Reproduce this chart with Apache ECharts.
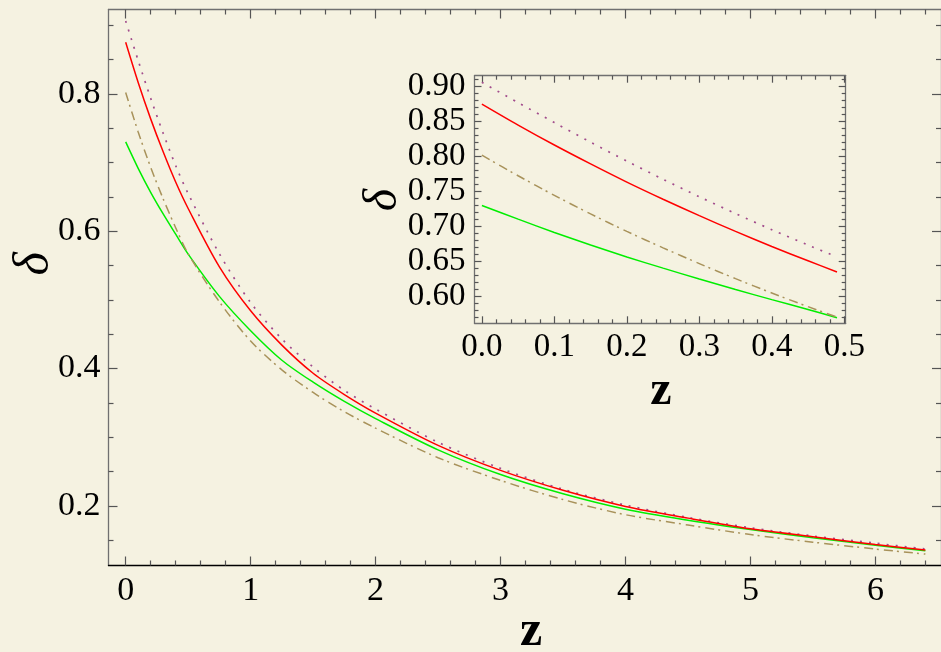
<!DOCTYPE html>
<html><head><meta charset="utf-8">
<script src="https://cdn.jsdelivr.net/npm/echarts@6/dist/echarts.min.js"></script>
<style>html,body{margin:0;padding:0;background:#f5f2e1}#c{width:941px;height:652px}</style>
</head><body><div id="c"></div>
<script>
// ---- data ----
const mainZ = [0, 0.1, 0.2, 0.3, 0.4, 0.5, 0.75, 1, 1.25, 1.5, 1.75, 2, 2.5, 3, 3.5, 4, 4.5, 5, 5.5, 6, 6.4];
const mainRed = [0.875, 0.8165, 0.7635, 0.7155, 0.6715, 0.633, 0.548, 0.484, 0.434, 0.393, 0.362, 0.335, 0.288, 0.2515, 0.2225, 0.199, 0.182, 0.1665, 0.155, 0.1435, 0.1355];
const mainPurple = [0.906, 0.8485, 0.7935, 0.7425, 0.6955, 0.6545, 0.567, 0.496, 0.443, 0.402, 0.368, 0.341, 0.2925, 0.2545, 0.224, 0.201, 0.183, 0.168, 0.156, 0.1455, 0.137];
const mainGreen = [0.730, 0.6915, 0.6565, 0.625, 0.5955, 0.5665, 0.505, 0.455, 0.412, 0.380, 0.352, 0.327, 0.2815, 0.2455, 0.2175, 0.195, 0.179, 0.1655, 0.1535, 0.1425, 0.1345];
const mainOlive = [0.802, 0.7445, 0.693, 0.647, 0.605, 0.567, 0.497, 0.440, 0.398, 0.365, 0.337, 0.313, 0.270, 0.237, 0.209, 0.187, 0.172, 0.158, 0.147, 0.137, 0.1296];

const insetZ = [0, 0.05, 0.1, 0.15, 0.2, 0.25, 0.3, 0.35, 0.4, 0.45, 0.49];
const insetRed = [0.875, 0.845, 0.8165, 0.7895, 0.7635, 0.739, 0.7155, 0.693, 0.6715, 0.651, 0.635];
const insetPurple = [0.906, 0.877, 0.8485, 0.8205, 0.7935, 0.7675, 0.7425, 0.7185, 0.6955, 0.6735, 0.6565];
const insetOlive = [0.802, 0.7725, 0.7445, 0.718, 0.693, 0.6695, 0.647, 0.6255, 0.605, 0.5855, 0.5705];
const insetGreen = [0.730, 0.7105, 0.6915, 0.6735, 0.6565, 0.6405, 0.625, 0.610, 0.5955, 0.5815, 0.5695];

const mainXMajor = [0, 1, 2, 3, 4, 5, 6];
const mainXMinor = [0.2,0.4,0.6,0.8,1.2,1.4,1.6,1.8,2.2,2.4,2.6,2.8,3.2,3.4,3.6,3.8,4.2,4.4,4.6,4.8,5.2,5.4,5.6,5.8,6.2,6.4];
const mainYMajor = [0.2, 0.4, 0.6, 0.8];
const mainYMinor = [0.15,0.25,0.3,0.35,0.45,0.5,0.55,0.65,0.7,0.75,0.85,0.9];
const insetXMajor = [0, 0.1, 0.2, 0.3, 0.4, 0.5];
const insetXMinor = [0.02,0.04,0.06,0.08,0.12,0.14,0.16,0.18,0.22,0.24,0.26,0.28,0.32,0.34,0.36,0.38,0.42,0.44,0.46,0.48];
const insetYMajor = [0.60, 0.65, 0.70, 0.75, 0.80, 0.85, 0.90];
const insetYMinor = [0.57,0.58,0.59,0.61,0.62,0.63,0.64,0.66,0.67,0.68,0.69,0.71,0.72,0.73,0.74,0.76,0.77,0.78,0.79,0.81,0.82,0.83,0.84,0.86,0.87,0.88,0.89,0.91];

// ---- styling ----
const BG = '#f5f2e1';
const FRAME = '#707070';
const TICK = '#555555';
const SERIF = '"Liberation Serif", "Times New Roman", serif';

function mkAxis(grid, min, max, pos, ticks, len, o) {
  o = o || {};
  const ax = {
    type: 'value', gridIndex: grid, min: min, max: max, position: pos,
    axisLine: { show: !!o.line, onZero: false, lineStyle: { color: o.lineColor || FRAME, width: o.lineWidth || 1.3 } },
    axisTick: { show: true, inside: true, length: len, customValues: ticks, lineStyle: { color: TICK, width: 1.2 } },
    axisLabel: { show: false },
    splitLine: { show: false }
  };
  if (o.labels) {
    ax.axisLabel = { show: true, customValues: o.labels, formatter: o.fmt, fontSize: o.fs, fontFamily: SERIF, color: '#000', margin: o.margin };
  }
  return ax;
}

const MX = [-0.1375, 6.525], MY = [0.113, 0.9228];
const IX = [-0.0102, 0.502], IY = [0.5617, 0.9155];

const xAxes = [
  mkAxis(0, MX[0], MX[1], 'bottom', mainXMajor, 9, { line: true, lineColor: '#000', labels: mainXMajor, fmt: v => String(Math.round(v)), fs: 34, margin: 9 }),
  mkAxis(0, MX[0], MX[1], 'bottom', mainXMinor, 5),
  mkAxis(0, MX[0], MX[1], 'top', mainXMajor, 9, { line: true }),
  mkAxis(0, MX[0], MX[1], 'top', mainXMinor, 5),
  mkAxis(1, IX[0], IX[1], 'bottom', insetXMajor, 7, { line: true, labels: insetXMajor, fmt: v => v.toFixed(1), fs: 33, margin: 8 }),
  mkAxis(1, IX[0], IX[1], 'bottom', insetXMinor, 4),
  mkAxis(1, IX[0], IX[1], 'top', insetXMajor, 7, { line: true }),
  mkAxis(1, IX[0], IX[1], 'top', insetXMinor, 4)
];
const yAxes = [
  mkAxis(0, MY[0], MY[1], 'left', mainYMajor, 9, { line: true, labels: mainYMajor, fmt: v => v.toFixed(1), fs: 34, margin: 8 }),
  mkAxis(0, MY[0], MY[1], 'left', mainYMinor, 5),
  mkAxis(0, MY[0], MY[1], 'right', mainYMajor, 9, { line: true }),
  mkAxis(0, MY[0], MY[1], 'right', mainYMinor, 5),
  mkAxis(1, IY[0], IY[1], 'left', insetYMajor, 7, { line: true, labels: insetYMajor, fmt: v => v.toFixed(2), fs: 33, margin: 9 }),
  mkAxis(1, IY[0], IY[1], 'left', insetYMinor, 4),
  mkAxis(1, IY[0], IY[1], 'right', insetYMajor, 7, { line: true }),
  mkAxis(1, IY[0], IY[1], 'right', insetYMinor, 4)
];

function pairs(xs, ys) { return xs.map((x, i) => [x, ys[i]]); }

const styles = {
  purple: { color: '#a24c8c', width: 1.7, type: [2, 7] },
  olive: { color: '#a8925a', width: 1.5, type: [9, 4, 2, 5] },
  green: { color: '#00ee00', width: 1.5, type: 'solid' },
  red: { color: '#ff0000', width: 1.5, type: 'solid' }
};
function line(name, xi, yi, data, st) {
  return { type: 'line', name: name, xAxisIndex: xi, yAxisIndex: yi, data: data, showSymbol: false,
    smooth: 0.3, lineStyle: st, itemStyle: { color: st.color }, z: 3 };
}

const option = {
  animation: false,
  backgroundColor: BG,
  grid: [
    { left: 108.5, top: 9.5, width: 834, height: 556, show: true, backgroundColor: BG, borderWidth: 0 },
    { left: 474.5, top: 75.7, width: 371.2, height: 247.6, show: true, backgroundColor: BG, borderWidth: 0 }
  ],
  xAxis: xAxes,
  yAxis: yAxes,
  series: [
    line('green', 0, 0, pairs(mainZ, mainGreen), styles.green),
    line('olive', 0, 0, pairs(mainZ, mainOlive), styles.olive),
    line('purple', 0, 0, pairs(mainZ, mainPurple), styles.purple),
    line('red', 0, 0, pairs(mainZ, mainRed), styles.red),
    line('green', 4, 4, pairs(insetZ, insetGreen), styles.green),
    line('olive', 4, 4, pairs(insetZ, insetOlive), styles.olive),
    line('purple', 4, 4, pairs(insetZ, insetPurple), styles.purple),
    line('red', 4, 4, pairs(insetZ, insetRed), styles.red)
  ],
  graphic: [
    { type: 'text', x: 35, y: 264, rotation: Math.PI / 2, style: { text: 'δ', fontSize: 50, fontStyle: 'italic', fontFamily: SERIF, fill: '#000', align: 'center', verticalAlign: 'middle' } },
    { type: 'text', x: 531, y: 632, style: { text: 'z', fontSize: 50, fontWeight: 'bold', fontFamily: SERIF, fill: '#000', align: 'center', verticalAlign: 'middle' } },
    { type: 'text', x: 383, y: 200, rotation: Math.PI / 2, style: { text: 'δ', fontSize: 48, fontStyle: 'italic', fontFamily: SERIF, fill: '#000', align: 'center', verticalAlign: 'middle' } },
    { type: 'text', x: 661, y: 392, style: { text: 'z', fontSize: 48, fontWeight: 'bold', fontFamily: SERIF, fill: '#000', align: 'center', verticalAlign: 'middle' } }
  ]
};

const chart = echarts.init(document.getElementById('c'), null, { renderer: 'canvas' });
chart.setOption(option);
</script>
</body></html>
